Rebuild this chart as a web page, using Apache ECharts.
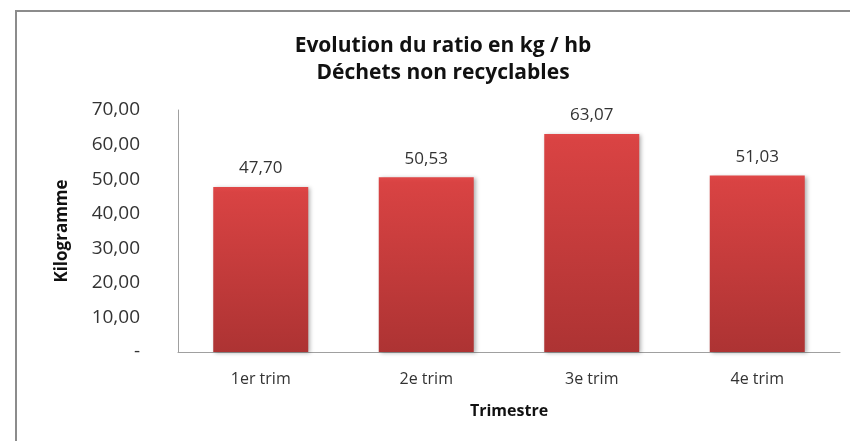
<!DOCTYPE html>
<html>
<head>
<meta charset="utf-8">
<script src="https://cdn.jsdelivr.net/npm/echarts@6/dist/echarts.min.js"></script>
<style>
  html, body { margin: 0; padding: 0; background: #fff; }
  #chart { width: 850px; height: 441px; }
</style>
</head>
<body>
<div id="chart"></div>
<script>
// données
const trimestres = ['1er trim', '2e trim', '3e trim', '4e trim'];
const ratios = [47.70, 50.53, 63.07, 51.03];
const yTicks = [0, 10, 20, 30, 40, 50, 60, 70];

const fontFam = '"Open Sans", sans-serif';
const fr = v => v.toFixed(2).replace('.', ',');

var myChart = echarts.init(document.getElementById('chart'));
let option = {
    animation: false,
    backgroundColor: '#fff',
    title: {
        text: 'Evolution du ratio en kg / hb\nDéchets non recyclables',
        left: 438,
        top: 28,
        textAlign: 'center',
        textStyle: { fontFamily: fontFam, fontSize: 21, fontWeight: 'bold', color: '#111', lineHeight: 27 }
    },
    graphic: [{
        type: 'polyline',
        shape: { points: [[16, 441], [16, 11], [850, 11]] },
        style: { stroke: '#8c8c8c', lineWidth: 2, fill: null }
    }],
    grid: { left: 178, right: 10, top: 110, bottom: 89 },
    xAxis: {
        type: 'category',
        data: trimestres,
        name: 'Trimestre',
        nameLocation: 'middle',
        nameGap: 51,
        nameTextStyle: { fontFamily: fontFam, fontSize: 16, fontWeight: 'bold', color: '#111' },
        axisLine: { lineStyle: { color: '#a0a0a0', width: 1 } },
        axisTick: { show: false },
        axisLabel: { fontFamily: fontFam, fontSize: 16, color: '#333', margin: 19 }
    },
    yAxis: {
        type: 'value',
        min: yTicks[0],
        max: yTicks[yTicks.length - 1],
        interval: 10,
        name: 'Kilogramme',
        nameLocation: 'middle',
        nameGap: 107,
        nameRotate: 90,
        nameTextStyle: { fontFamily: fontFam, fontSize: 17, fontWeight: 'bold', color: '#111' },
        axisLine: { show: true, lineStyle: { color: '#a0a0a0', width: 1 } },
        axisTick: { show: false },
        splitLine: { show: false },
        axisLabel: {
            fontFamily: fontFam, fontSize: 19, color: '#333', margin: 38,
            formatter: v => v === 0 ? '-' : fr(v)
        }
    },
    series: [{
        type: 'bar',
        data: ratios,
        barWidth: 95,
        itemStyle: {
            color: new echarts.graphic.LinearGradient(0, 0, 0, 1, [
                { offset: 0, color: '#e04848' },
                { offset: 0.03, color: '#d94343' },
                { offset: 1, color: '#ad3333' }
            ]),
            shadowColor: 'rgba(0,0,0,0.3)',
            shadowBlur: 4,
            shadowOffsetX: 2,
            shadowOffsetY: 1
        },
        label: {
            show: true,
            position: 'top',
            distance: 10,
            fontFamily: fontFam,
            fontSize: 17,
            color: '#333',
            formatter: p => fr(p.value)
        }
    }]
};
myChart.setOption(option);
</script>
</body>
</html>
